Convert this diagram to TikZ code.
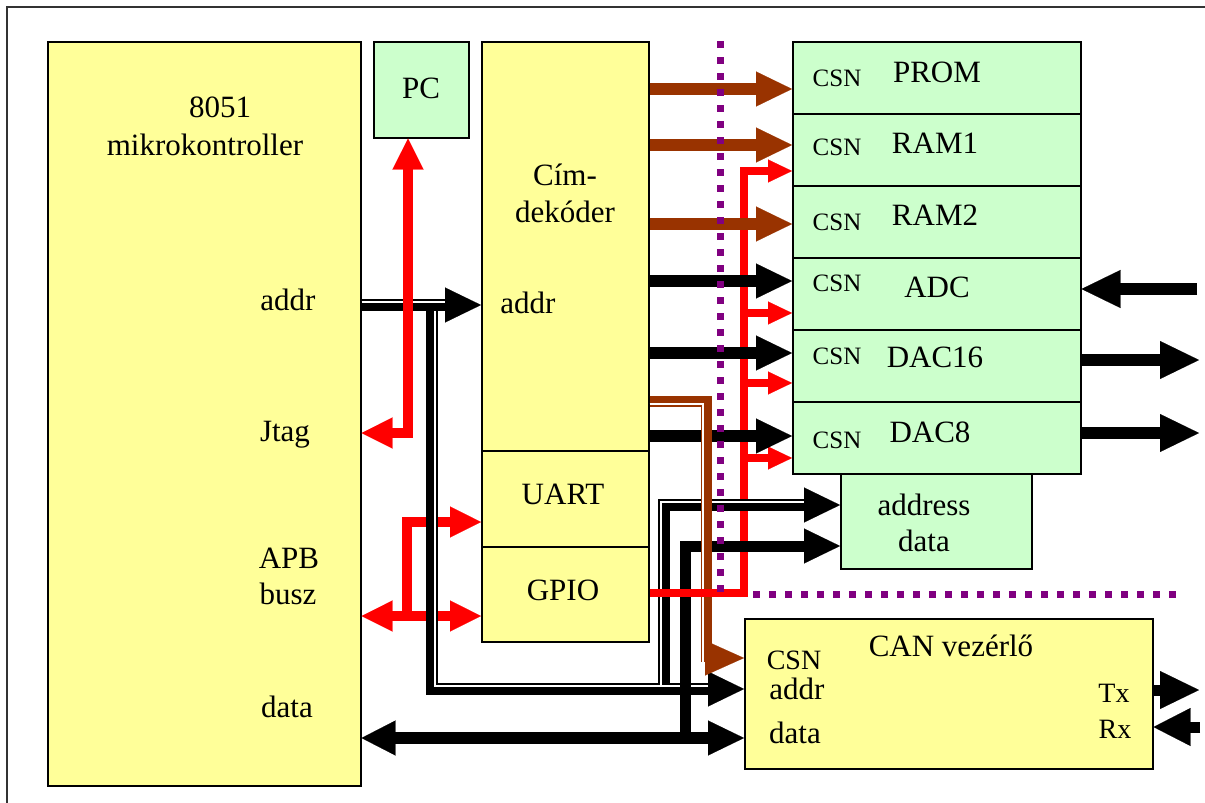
\documentclass[tikz,border=0pt]{standalone}
\usepackage{fontspec}
\setmainfont{Liberation Serif}
\usetikzlibrary{arrows.meta}
\definecolor{boxyellow}{HTML}{FFFF99}
\definecolor{boxgreen}{HTML}{CCFFCC}
\definecolor{busbrown}{HTML}{993300}
\definecolor{dotpurple}{HTML}{800080}
\tikzset{
  box/.style={draw=black, line width=1.5pt, inner sep=0pt, anchor=north west},
  ybox/.style={box, fill=boxyellow},
  gbox/.style={box, fill=boxgreen},
  lbl/.style={font=\fontsize{31}{37}\selectfont, anchor=base, inner sep=0pt},
  csnlbl/.style={font=\fontsize{25}{30}\selectfont, anchor=base, inner sep=0pt},
  canlbl/.style={font=\fontsize{28}{33}\selectfont, anchor=base, inner sep=0pt},
  blkbus/.style={draw=black, line width=12pt, miter limit=10},
  brnbus/.style={draw=busbrown, line width=11pt, miter limit=10},
  redbig/.style={draw=red, line width=10pt, miter limit=10},
  redsmall/.style={draw=red, line width=8pt, miter limit=10},
  gap/.style={draw=white, line width=2pt},
  thingap/.style={draw=white, line width=1.6pt},
  dotted line/.style={draw=dotpurple, line width=7pt, dash pattern=on 7pt off 9pt},
  headB/.style={-{Triangle[length=36pt,width=35pt,line width=0.1pt]}},
  dheadB/.style={{Triangle[length=34pt,width=35pt,line width=0.1pt]}-{Triangle[length=36pt,width=35pt,line width=0.1pt]}},
  headC/.style={-{Triangle[length=39pt,width=38pt,line width=0.1pt]}},
  headR/.style={-{Triangle[length=31pt,width=31pt,line width=0.1pt]}},
  dheadR/.style={{Triangle[length=31pt,width=31pt,line width=0.1pt]}-{Triangle[length=31pt,width=31pt,line width=0.1pt]}},
  headr/.style={-{Triangle[length=24pt,width=23pt,line width=0.1pt]}},
}
\begin{document}
\begin{tikzpicture}[x=1pt,y=-1pt]
\useasboundingbox (0,0) rectangle (1205,803);
\fill[white] (0,0) rectangle (1205,803);

% outer frame
\draw[line width=2pt, black!80] (7,803) -- (7,7) -- (1205,7);

% blocks
\node[ybox, minimum width=313pt, minimum height=744pt] (mcu) at (47,41) {};
\node[gbox, minimum width=95pt, minimum height=96pt] (pc) at (373,41) {};
\node[ybox, minimum width=167pt, minimum height=409pt] (dec) at (481,41) {};
\node[ybox, minimum width=167pt, minimum height=96pt] (uart) at (481,450) {};
\node[ybox, minimum width=167pt, minimum height=95pt] (gpio) at (481,546) {};
\node[gbox, minimum width=288pt, minimum height=72pt] (prom) at (792,41) {};
\node[gbox, minimum width=288pt, minimum height=72pt] (ram1) at (792,113) {};
\node[gbox, minimum width=288pt, minimum height=72pt] (ram2) at (792,185) {};
\node[gbox, minimum width=288pt, minimum height=72pt] (adc) at (792,257) {};
\node[gbox, minimum width=288pt, minimum height=72pt] (dac16) at (792,329) {};
\node[gbox, minimum width=288pt, minimum height=72pt] (dac8) at (792,401) {};
\node[gbox, minimum width=191pt, minimum height=95pt] (adrbox) at (840,473) {};
\node[ybox, minimum width=408pt, minimum height=150pt] (can) at (744,618) {};

% free ends of the outside signals
\coordinate (adcin) at (1197,289);
\coordinate (dac16out) at (1199,360);
\coordinate (dac8out) at (1199,433);
\coordinate (txout) at (1199,690);
\coordinate (rxin) at (1200,727);

% chip select lines from GPIO
\draw[redsmall, headr] (744,597) -- (744,171) -- (ram1.west |- 0,171);
\draw[redsmall, headr] (744,313) -- (adc.west |- 0,313);
\draw[redsmall, headr] (744,383) -- (dac16.west |- 0,383);
\draw[redsmall, headr] (744,458) -- (dac8.west |- 0,458);

% APB bus
\draw[redbig, dheadR] (mcu.east |- 0,616) -- (gpio.west |- 0,616);
\draw[redbig, headR] (407,616) -- (407,522) -- (uart.west |- 0,522);

% address bus
\draw[blkbus, headB] (mcu.east |- 0,305) -- (dec.west |- 0,305);
\draw[blkbus, headB] (432,305) -- (432,689) -- (can.west |- 0,689);
\draw[blkbus, headB] (664,689) -- (664,505) -- (adrbox.west |- 0,505);
\draw[gap] (mcu.east |- 0,302) -- (445,302);
\draw[gap] (435,311) -- (435,686) -- (708,686);
\draw[gap] (661,686) -- (661,502) -- (804,502);

% data bus
\draw[blkbus, dheadB] (mcu.east |- 0,738) -- (can.west |- 0,738);
\draw[blkbus, line width=11pt, headB] (685,738) -- (685,546) -- (adrbox.west |- 0,546);

% decoder outputs and peripheral signals
\draw[blkbus, headB] (dec.east |- 0,281) -- (adc.west |- 0,281);
\draw[blkbus, headB] (dec.east |- 0,353) -- (dac16.west |- 0,353);
\draw[blkbus, headB] (dec.east |- 0,436) -- (dac8.west |- 0,436);
\draw[blkbus, headC] (adcin) -- (adc.east |- 0,289);
\draw[blkbus, headC] (dac16.east |- 0,360) -- (dac16out);
\draw[blkbus, headC] (dac8.east |- 0,433) -- (dac8out);
\draw[blkbus, line width=11pt, headC] (can.east |- 0,690) -- (txout);
\draw[blkbus, line width=11pt, -{Triangle[length=37pt,width=38pt,line width=0.1pt]}] (rxin) -- (can.east |- 0,727);

% JTAG
\draw[redbig, dheadR] (pc.south -| 408,0) -- (408,433) -- (mcu.east |- 0,433);

% memory chip selects
\draw[brnbus, line width=12pt, headB] (dec.east |- 0,89) -- (prom.west |- 0,89);
\draw[brnbus, line width=12pt, headB] (dec.east |- 0,145) -- (ram1.west |- 0,145);
\draw[brnbus, line width=12pt, headB] (dec.east |- 0,224) -- (ram2.west |- 0,224);

% CAN chip select
\draw[brnbus] (dec.east |- 0,401) -- (706,401) -- (706,662);
\draw[thingap] (dec.east |- 0,403.8) -- (702.7,403.8) -- (702.7,662);
\draw[draw=busbrown, fill=busbrown, line width=1pt, -{Triangle[length=39pt,width=35pt,line width=0.1pt]}] (704,658) -- (can.west |- 0,658);

\draw[redsmall] (gpio.east |- 0,593) -- (748,593);

% separating dotted lines
\draw[dotted line] (720,41) -- (720,594);
\draw[dotted line] (753,594) -- (1178,594);

% texts
\node[lbl] (t8051) at (220,117) {8051};
\node[lbl] (tmik) at (205,155) {mikrokontroller};
\node[lbl] (taddr) at (288,310) {addr};
\node[lbl] (tjtag) at (285,441) {Jtag};
\node[lbl] (tapb) at (289,568) {APB};
\node[lbl] (tbusz) at (288,604) {busz};
\node[lbl] (tdata) at (287,717) {data};
\node[lbl] (tpc) at (421,98) {PC};
\node[lbl] (tcim) at (565,185) {Cím-};
\node[lbl] (tdek) at (565,222) {dekóder};
\node[lbl] (tdaddr) at (528,313) {addr};
\node[lbl] (tuart) at (563,504) {UART};
\node[lbl] (tgpio) at (563,600) {GPIO};
\node[lbl] (tprom) at (937,82) {PROM};
\node[lbl] (tram1) at (935,153) {RAM1};
\node[lbl] (tram2) at (935,225) {RAM2};
\node[lbl] (tadc) at (937,297) {ADC};
\node[lbl] (tdac16) at (935,367) {DAC16};
\node[lbl] (tdac8) at (930,442) {DAC8};
\node[csnlbl] (c1) at (837,86) {CSN};
\node[csnlbl] (c2) at (837,155) {CSN};
\node[csnlbl] (c3) at (837,230) {CSN};
\node[csnlbl] (c4) at (837,291) {CSN};
\node[csnlbl] (c5) at (837,364) {CSN};
\node[csnlbl] (c6) at (837,448) {CSN};
\node[lbl] (taddress) at (924,515) {address};
\node[lbl] (tadata) at (924,551) {data};
\node[lbl] (tcan) at (951,656) {CAN vezérlő};
\node[canlbl] (tccsn) at (794,669) {CSN};
\node[lbl] (tcaddr) at (797,699) {addr};
\node[lbl] (tcdata) at (795,743) {data};
\node[canlbl] (ttx) at (1114,702) {Tx};
\node[canlbl] (trx) at (1115,738) {Rx};
\end{tikzpicture}
\end{document}
